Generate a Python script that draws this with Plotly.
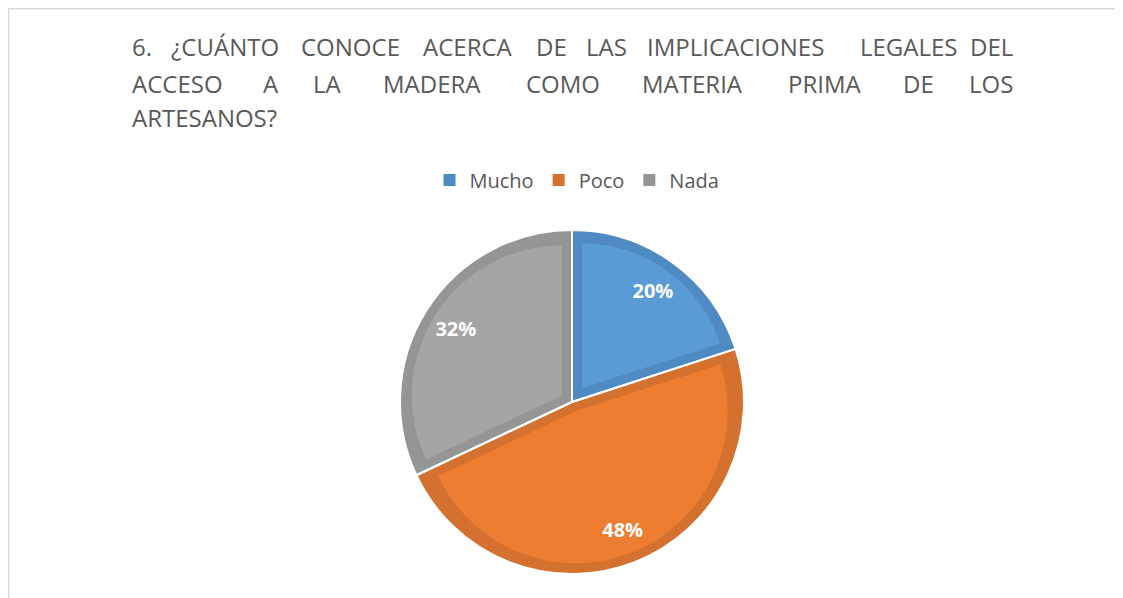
import math
import plotly.graph_objects as go

labels = ['Mucho', 'Poco', 'Nada']
values = [20, 48, 32]
fill_colors = ['#5B9BD5', '#ED7D31', '#A5A5A5']
edge_colors = ['#4F8AC3', '#D5712E', '#959595']

# title words per line, spread out (justified) like the original
title_lines = [
    ['6.', '¿CUÁNTO', 'CONOCE', 'ACERCA', 'DE', 'LAS', 'IMPLICACIONES', 'LEGALES', 'DEL'],
    ['ACCESO', 'A', 'LA', 'MADERA', 'COMO', 'MATERIA', 'PRIMA', 'DE', 'LOS'],
    ['ARTESANOS?'],
]
# word centre x in screen px (first word left edge, last word right edge)
title_x = [
    [130, 225, 350, 468, 551, 606, 735, 909, 1015],
    [130, 271, 327, 432, 563, 692, 825, 918, 1015],
    [130],
]
title_y = [47, 84, 118]

# the page puts the plot 8px in from the top-left corner
OFF = 8
W, H = 1123 - OFF, 598 - OFF
cx, cy, R = 572, 402, 172
band = 10
CLEAR = 'rgba(0,0,0,0)'
FONT = 'Open Sans'


def px(x):
    return (x - OFF) / W


def py(y):
    return 1 - (y - OFF) / H


def dom(half):
    return dict(x=[px(cx - half), px(cx + half)], y=[py(cy + half), py(cy - half)])


common = dict(labels=labels, values=values, sort=False,
              direction='clockwise', rotation=0)

fig = go.Figure()

# darker slice (acts as the border) + legend
fig.add_trace(go.Pie(
    **common, domain=dom(R), name='',
    marker=dict(colors=edge_colors, line=dict(width=0)),
    textinfo='none', hoverinfo='skip', showlegend=True
))

# lighter inset of each slice, made by pulling a smaller slice outward
total = sum(values)
for i, v in enumerate(values):
    alpha = math.pi * v / total
    d = band / math.sin(alpha)
    r_in = R - band - d
    pulls = [d / r_in if j == i else 0 for j in range(len(values))]
    cols = [fill_colors[j] if j == i else CLEAR for j in range(len(values))]
    fig.add_trace(go.Pie(
        **common, domain=dom(R - band), pull=pulls,
        marker=dict(colors=cols, line=dict(width=0)),
        textinfo='none', hoverinfo='skip', showlegend=False
    ))

# white separators
fig.add_trace(go.Pie(
    **common, domain=dom(R), name='',
    marker=dict(colors=[CLEAR] * 3, line=dict(color='white', width=2)),
    textinfo='none', hoverinfo='label+percent', showlegend=False
))

# percent labels, kept out toward the rim with a hole
fig.add_trace(go.Pie(
    **common, domain=dom(R), hole=0.6,
    marker=dict(colors=[CLEAR] * 3, line=dict(width=0)),
    textinfo='percent', textposition='inside', insidetextorientation='horizontal',
    textfont=dict(family=FONT, size=20, color='white', weight='bold'),
    hoverinfo='skip', showlegend=False
))

for words, xs, y in zip(title_lines, title_x, title_y):
    n = len(words)
    for k, (w, x) in enumerate(zip(words, xs)):
        anchor = 'left' if k == 0 else ('right' if k == n - 1 else 'center')
        fig.add_annotation(
            text=w, x=px(x), y=py(y), xref='paper', yref='paper',
            xanchor=anchor, yanchor='middle', showarrow=False,
            font=dict(family=FONT, size=24, color='#595959')
        )

fig.update_layout(
    width=W, height=H,
    margin=dict(l=0, r=0, t=0, b=0),
    paper_bgcolor='white',
    showlegend=True,
    legend=dict(
        orientation='h', x=px(577), xanchor='center', y=py(180), yanchor='middle',
        font=dict(family=FONT, size=20, color='#595959'), traceorder='normal'
    ),
    shapes=[dict(
        type='rect', xref='paper', yref='paper',
        x0=0.75 / W, x1=1.05, y0=-0.05, y1=1 - 0.75 / H,
        line=dict(color='#D9D9D9', width=1.5)
    )],
)

fig.write_html('out.html')
